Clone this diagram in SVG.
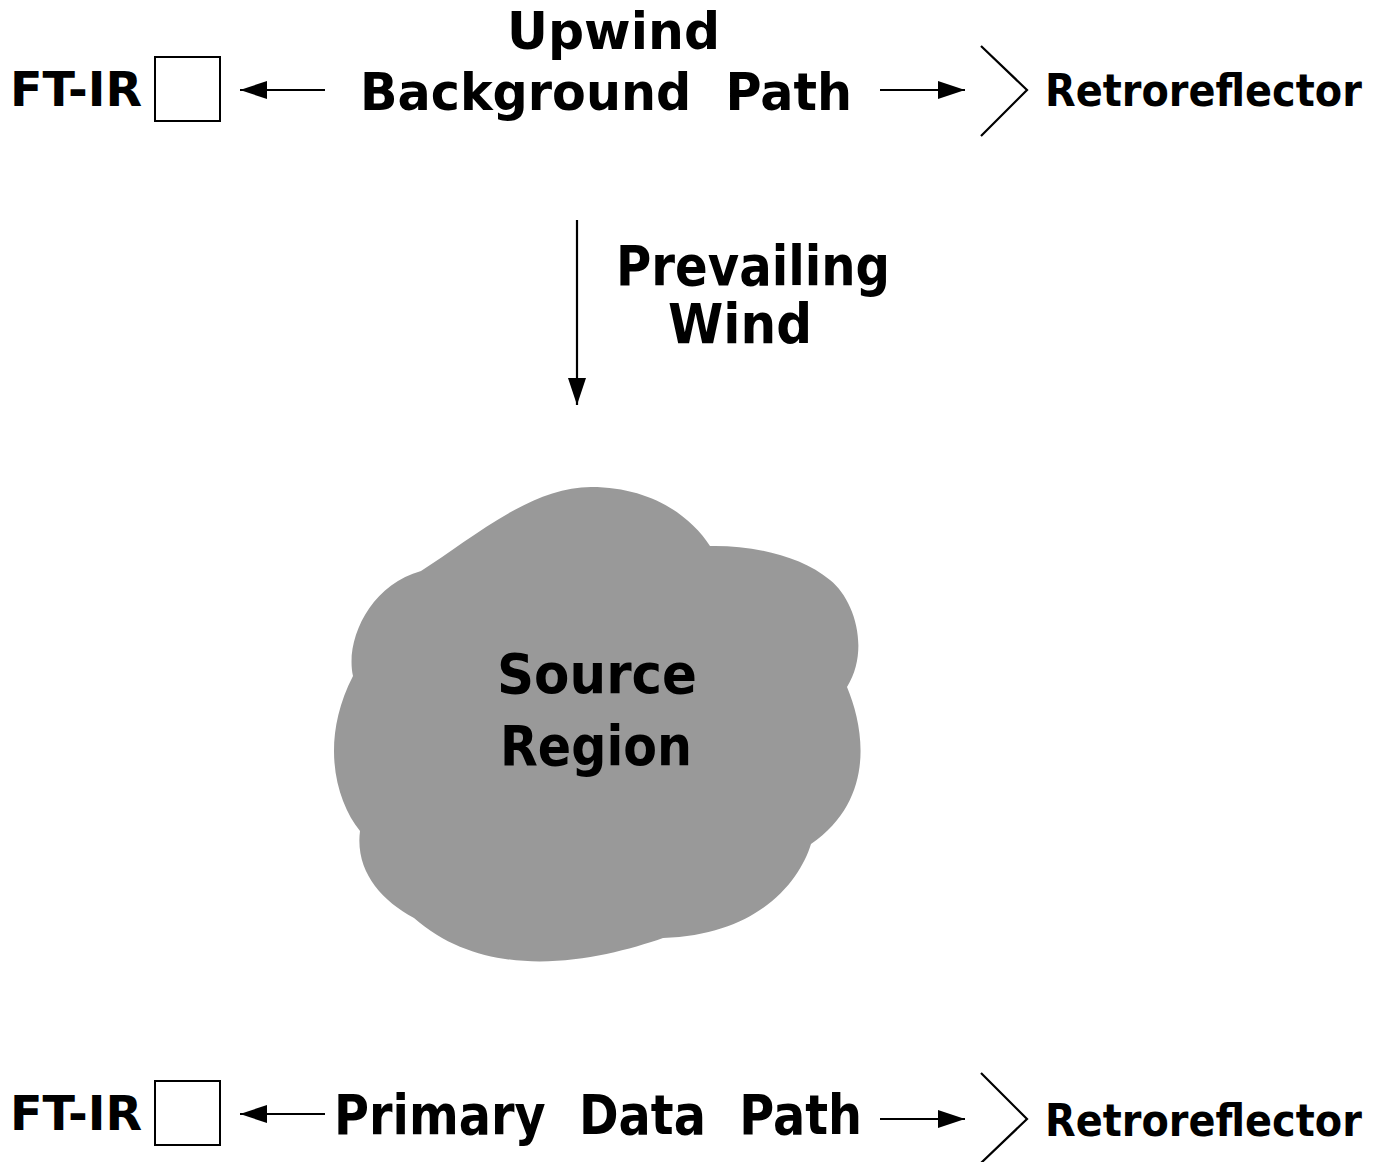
<svg xmlns="http://www.w3.org/2000/svg" width="1383" height="1162" viewBox="0 0 1383 1162">
<style>
text{font-family:"DejaVu Sans","Liberation Sans",sans-serif;font-weight:bold;fill:#000;white-space:pre}
.big{font-size:55px}
.mid{font-size:52px}
.lab{font-size:48px}
.ret{font-size:45px}
.box{fill:#fff;stroke:#000;stroke-width:2}
.ln{fill:none;stroke:#000;stroke-width:2.2}
</style>
<defs>
<marker id="ah" markerUnits="userSpaceOnUse" markerWidth="30" markerHeight="20" refX="27" refY="9" orient="auto">
<path d="M0,0 L27,9 L0,18 z" fill="#000"/>
</marker>
</defs>
<rect width="1383" height="1162" fill="#fff"/>
<g id="cloud">
<path d="M421,571 C470,540 530,487 591,487 C650,487 690,515 710,546 C750,545 800,555 830,580 C855,600 870,650 847,687 C865,730 875,800 811,844 C800,880 760,935 663,938 C600,960 490,985 414,918 C380,900 355,870 360,831 C335,800 320,740 353,676 C345,640 370,585 421,571 Z" fill="#999999"/>
<text class="big" x="597" y="693" text-anchor="middle" textLength="200" lengthAdjust="spacingAndGlyphs">Source</text>
<text class="big" x="596" y="765" text-anchor="middle" textLength="192" lengthAdjust="spacingAndGlyphs">Region</text>
</g>
<g id="ftir-top">
<text class="lab" x="10" y="106" textLength="132" lengthAdjust="spacingAndGlyphs">FT-IR</text>
<rect class="box" x="155" y="57" width="65" height="64"/>
</g>
<g id="upwind-label">
<text class="mid" x="507" y="49" textLength="213" lengthAdjust="spacingAndGlyphs">Upwind</text>
<text class="mid" x="360" y="110" textLength="492" lengthAdjust="spacingAndGlyphs">Background  Path</text>
</g>
<g id="retro-top">
<path class="ln" d="M981,46 L1027,90 L981,136"/>
<text class="ret" transform="matrix(0.886 0 0 1 1045 106)">Retroreflector</text>
</g>
<g id="wind-label">
<text class="big" x="616" y="285" textLength="274" lengthAdjust="spacingAndGlyphs">Prevailing</text>
<text class="big" x="668" y="343" textLength="144" lengthAdjust="spacingAndGlyphs">Wind</text>
</g>
<g id="ftir-bottom">
<text class="lab" x="10" y="1130" textLength="132" lengthAdjust="spacingAndGlyphs">FT-IR</text>
<rect class="box" x="155" y="1081" width="65" height="64"/>
</g>
<g id="primary-label">
<text class="big" x="334" y="1134" textLength="528" lengthAdjust="spacingAndGlyphs">Primary  Data  Path</text>
</g>
<g id="retro-bottom">
<path class="ln" d="M981,1073 L1027,1119 L981,1163"/>
<text class="ret" transform="matrix(0.886 0 0 1 1045 1136)">Retroreflector</text>
</g>
<g id="connectors">
<line class="ln" x1="325" y1="90" x2="240" y2="90" marker-end="url(#ah)"/>
<line class="ln" x1="880" y1="90" x2="965" y2="90" marker-end="url(#ah)"/>
<line class="ln" x1="577" y1="220" x2="577" y2="405" marker-end="url(#ah)"/>
<line class="ln" x1="325" y1="1114" x2="240" y2="1114" marker-end="url(#ah)"/>
<line class="ln" x1="880" y1="1119" x2="965" y2="1119" marker-end="url(#ah)"/>
</g>
</svg>
